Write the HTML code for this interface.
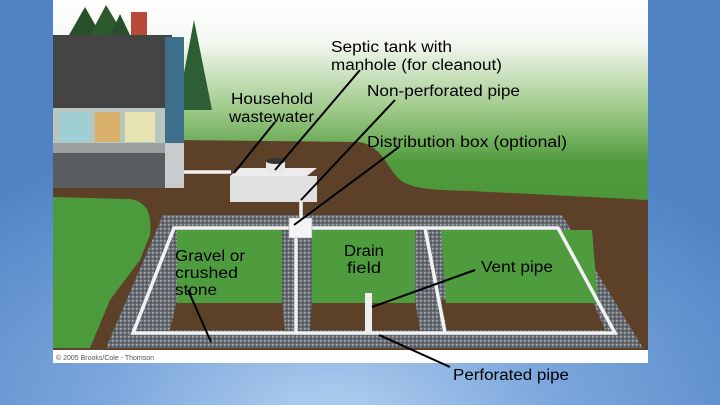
<!DOCTYPE html>
<html><head><meta charset="utf-8"><style>
html,body{margin:0;padding:0}
body{width:720px;height:405px;overflow:hidden;background:radial-gradient(ellipse 520px 300px at 330px 420px,#b4d0f0 0%,#7aa6dc 45%,#4f83c4 100%);font-family:"Liberation Sans",sans-serif}
svg{position:absolute;left:0;top:0}
</style></head><body>
<svg width="720" height="405" viewBox="0 0 720 405">
<defs>
<linearGradient id="sky" x1="0" y1="0" x2="0" y2="1">
<stop offset="0" stop-color="#ffffff"/><stop offset="0.12" stop-color="#f2f7ef"/><stop offset="0.3" stop-color="#9fca8a"/><stop offset="0.45" stop-color="#4f9a3c"/><stop offset="1" stop-color="#3f8a30"/>
</linearGradient>
<pattern id="grav" width="4" height="4" patternUnits="userSpaceOnUse">
<rect width="4" height="4" fill="#6c7178"/><rect x="0" y="0" width="1.5" height="1.5" fill="#a9adb3"/><rect x="2" y="2" width="1.5" height="1.5" fill="#3e4248"/></pattern>
</defs>
<rect x="53" y="0" width="595" height="363" fill="url(#sky)"/>
<path d="M53 140 L175 140 L358 142 C385 145 388 175 405 183 C420 190 440 190 470 191 L648 200 L648 350 L86 350 L53 350 Z" fill="#5c4028"/>
<path d="M53 197 L130 199 C148 202 152 215 150 235 L140 260 L110 300 L90 348 L53 348 Z" fill="#4b9a3b"/>
<polygon points="163,215 562,215 643,348 106,348" fill="url(#grav)"/>
<polygon points="177,300 282,300 285,330 170,330" fill="#5c4028"/>
<polygon points="312,300 415,300 420,330 310,330" fill="#5c4028"/>
<polygon points="441,300 592,300 605,330 447,330" fill="#5c4028"/>
<polygon points="177,230 282,230 282,303 177,303" fill="#4e9c3d"/>
<polygon points="312,230 415,230 415,303 312,303" fill="#4e9c3d"/>
<polygon points="441,230 592,230 598,303 446,303" fill="#4e9c3d"/>
<g stroke="#f2f2f2" stroke-width="3.5" fill="none">
<polygon points="174,228 558,228 615,333 133,333"/>
<line x1="296" y1="228" x2="296" y2="333"/>
<line x1="425" y1="228" x2="445" y2="333"/>
<line x1="301" y1="200" x2="301" y2="220"/>
<line x1="165" y1="172" x2="231" y2="172"/>
</g>
<rect x="365" y="293" width="7" height="40" fill="#eee"/>
<rect x="289" y="218" width="23" height="20" fill="#f4f4f4" stroke="#999" stroke-width="0.5"/>
<polygon points="230,176 307,176 317,168 240,168" fill="#ececec"/>
<rect x="230" y="176" width="87" height="26" fill="#e0e0e0"/>
<rect x="266" y="161" width="19" height="12" fill="#e8e8e8"/>
<ellipse cx="275.5" cy="161" rx="9.5" ry="3" fill="#333"/>
<polygon points="69,35 85,7 101,35" fill="#27502a"/><polygon points="90,35 106,5 124,35" fill="#2c5a2e"/><polygon points="110,35 120,14 130,35" fill="#27502a"/>
<polygon points="177,110 194,20 212,110" fill="#2e5e33"/>
<rect x="131" y="12" width="16" height="25" fill="#b84a3a"/>
<polygon points="53,35 172,35 168,108 53,108" fill="#444"/>
<polygon points="165,37 184,37 184,143 165,143" fill="#3d6f8c"/>
<rect x="53" y="108" width="112" height="36" fill="#b9c6c0"/>
<rect x="60" y="112" width="30" height="30" fill="#9fcfd4"/><rect x="95" y="112" width="25" height="30" fill="#d8b06a"/><rect x="125" y="112" width="30" height="30" fill="#e6e4b0"/>
<rect x="53" y="143" width="112" height="10" fill="#9aa0a0"/>
<rect x="53" y="153" width="112" height="35" fill="#5a5d60"/>
<rect x="165" y="143" width="19" height="45" fill="#c8cccc"/>
<rect x="53" y="350" width="595" height="13" fill="#fff"/>
<g stroke="#000" stroke-width="2">
<line x1="275" y1="122" x2="234" y2="173"/>
<line x1="360" y1="70" x2="275" y2="170"/>
<line x1="395" y1="100" x2="301" y2="200"/>
<line x1="399" y1="147" x2="294" y2="225"/>
<line x1="188" y1="290" x2="211" y2="342"/>
<line x1="475" y1="270" x2="372" y2="307"/>
<line x1="379" y1="335" x2="450" y2="367"/>
</g>
<g font-family="Liberation Sans, sans-serif" font-size="15.5" fill="#000" lengthAdjust="spacingAndGlyphs">
<text x="331" y="52" textLength="121" lengthAdjust="spacingAndGlyphs">Septic tank with</text>
<text x="331" y="70" textLength="171" lengthAdjust="spacingAndGlyphs">manhole (for cleanout)</text>
<text x="367" y="96" textLength="153" lengthAdjust="spacingAndGlyphs">Non-perforated pipe</text>
<text x="231" y="104" textLength="82" lengthAdjust="spacingAndGlyphs">Household</text>
<text x="229" y="122" textLength="85" lengthAdjust="spacingAndGlyphs">wastewater</text>
<text x="367" y="147" textLength="200" lengthAdjust="spacingAndGlyphs">Distribution box (optional)</text>
<text x="175" y="261" textLength="70" lengthAdjust="spacingAndGlyphs">Gravel or</text>
<text x="175" y="278" textLength="63" lengthAdjust="spacingAndGlyphs">crushed</text>
<text x="175" y="295" textLength="42" lengthAdjust="spacingAndGlyphs">stone</text>
<text x="344" y="256" textLength="40" lengthAdjust="spacingAndGlyphs">Drain</text>
<text x="347" y="273" textLength="34" lengthAdjust="spacingAndGlyphs">field</text>
<text x="481" y="272" textLength="72" lengthAdjust="spacingAndGlyphs">Vent pipe</text>
<text x="453" y="380" textLength="116" lengthAdjust="spacingAndGlyphs">Perforated pipe</text>
</g>
<text x="56" y="360" font-size="7" fill="#555" font-family="Liberation Sans, sans-serif">© 2005 Brooks/Cole - Thomson</text>
</svg>
</body></html>
